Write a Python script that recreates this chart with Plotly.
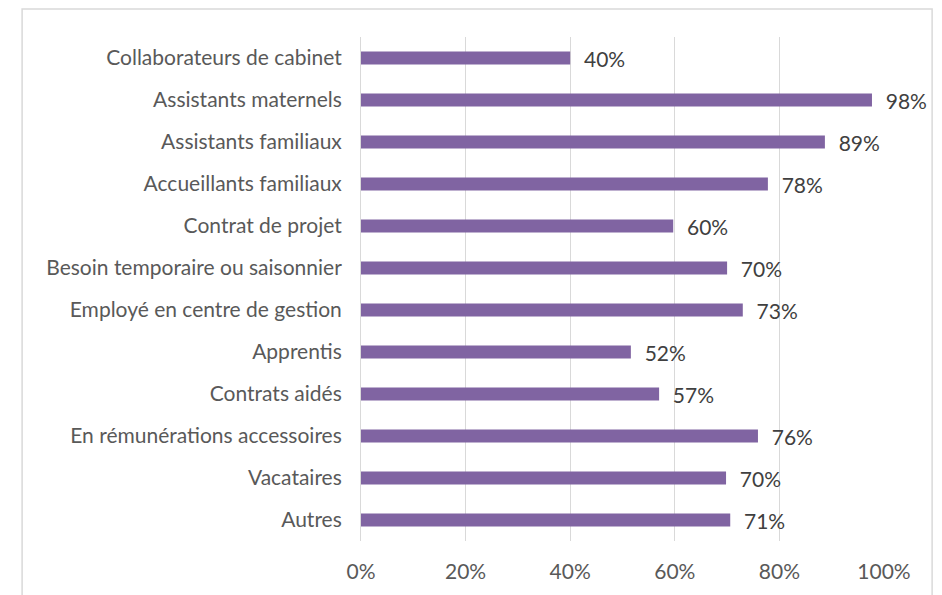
import plotly.graph_objects as go

# Categories, top to bottom as in the chart
categories = [
    "Collaborateurs de cabinet",
    "Assistants maternels",
    "Assistants familiaux",
    "Accueillants familiaux",
    "Contrat de projet",
    "Besoin temporaire ou saisonnier",
    "Employé en centre de gestion",
    "Apprentis",
    "Contrats aidés",
    "En rémunérations accessoires",
    "Vacataires",
    "Autres",
]
shares = [0.40, 0.977, 0.887, 0.778, 0.597, 0.70, 0.73, 0.516, 0.57, 0.759, 0.698, 0.706]
tick_vals = [0, 0.2, 0.4, 0.6, 0.8, 1.0]
tick_text = ["0%", "20%", "40%", "60%", "80%", "100%"]

FONT = "Lato, 'Open Sans', sans-serif"
GREY = "#D9D9D9"

fig = go.Figure()
fig.add_trace(go.Bar(
    x=shares, y=categories, orientation="h",
    marker=dict(color="#8064A2", line=dict(width=0)),
    text=["\u00a0\u00a0" + f"{v:.0%}" for v in shares],
    textposition="outside", cliponaxis=False, constraintext="none",
    textfont=dict(family=FONT, size=21, color="#404040"),
))

# Excel-style chart frame (partly cropped in the screenshot)
fig.add_shape(type="path", xref="paper", yref="paper",
              path="M -0.648,-0.2 L -0.648,1.0556 L 1.092,1.0556 L 1.092,-0.2",
              line=dict(color=GREY, width=1.5))

# page body adds 8px offset, margins compensate
fig.update_layout(
    width=942, height=595,
    margin=dict(l=353, r=66, t=29, b=62),
    plot_bgcolor="white", paper_bgcolor="white",
    showlegend=False, bargap=0.69,
    font=dict(family=FONT, size=21, color="#595959"),
    xaxis=dict(range=[0, 1.0], tickvals=tick_vals, ticktext=tick_text,
               showgrid=True, gridcolor=GREY, gridwidth=1,
               zeroline=False, showline=False, ticks="",
               ticklabelstandoff=16, automargin=False),
    yaxis=dict(autorange="reversed", showgrid=False, zeroline=False,
               showline=True, linecolor=GREY, ticks="",
               ticklabelstandoff=14, automargin=False),
)

fig.write_html("out.html")
